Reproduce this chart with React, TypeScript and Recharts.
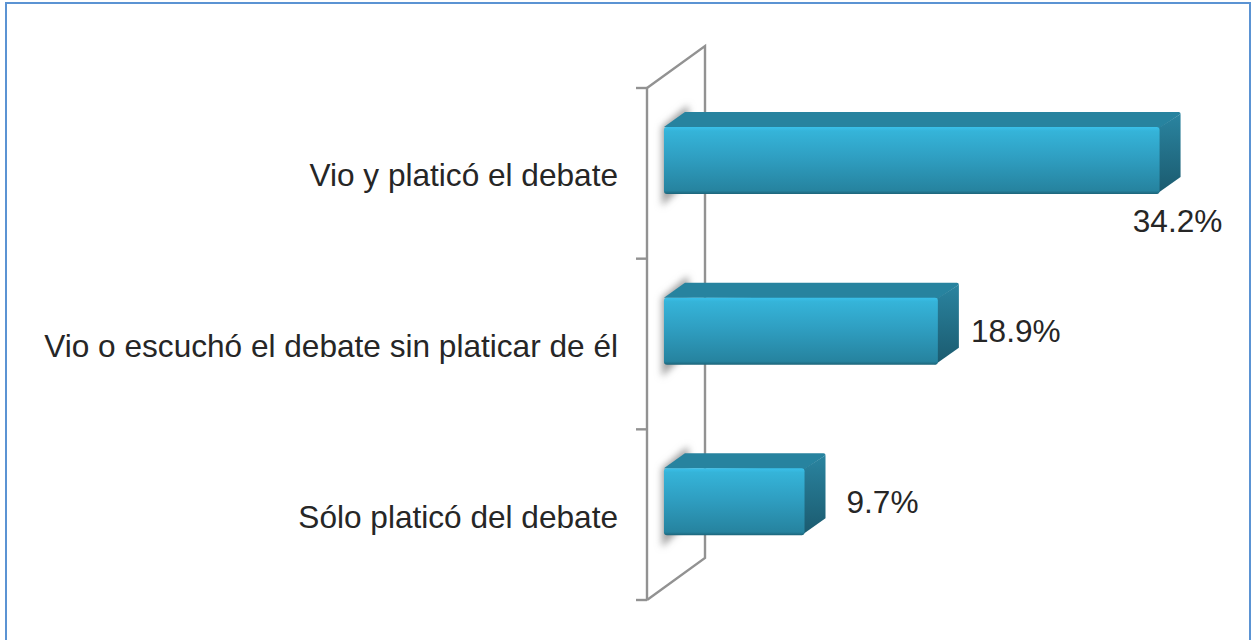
import { Bar, BarChart, Cell, LabelList, XAxis, YAxis, usePlotArea } from "recharts";

// Horizontal "3D" bars on a slanted wall, debate survey chart.

const categories = [
  "Vio y platicó el debate",
  "Vio o escuchó el debate sin platicar de él",
  "Sólo platicó del debate",
];
const shares = [34.2, 18.9, 9.7];

const data = categories.map((name, i) => ({ name, share: shares[i] }));

const WIDTH = 1255;
const HEIGHT = 640;
const FONT = '"Liberation Sans", Arial, sans-serif';
const FONT_SIZE = 31.6;
const INK = "#262626";
const AXIS_GREY = "#929292";
const AXIS_WIDTH = 2.4;

// bar extrusion and wall depth, as drawn by the old office 3D style
const DEPTH_X = 21;
const DEPTH_Y = 15;
const WALL_X = 58;
const WALL_Y = 42;
const BAR_SHIFT = 13;
const TICK_LEN = 11;

function Wall() {
  const plot = usePlotArea();
  if (!plot) return null;
  const { x, y, height } = plot;
  const bottom = y + height;
  const band = height / categories.length;
  return (
    <g stroke={AXIS_GREY} strokeWidth={AXIS_WIDTH} fill="none">
      <polyline
        points={`${x},${y} ${x + WALL_X},${y - WALL_Y} ${x + WALL_X},${bottom - WALL_Y} ${x},${bottom}`}
      />
      {/* ticks sit on the band edges, not the band centres */}
      {[...categories, ""].map((_, i) => (
        <line key={i} x1={x - TICK_LEN} x2={x} y1={y + band * i} y2={y + band * i} />
      ))}
    </g>
  );
}

function Bar3D(props: any) {
  const { x, y: rawY, width, height } = props;
  const y = rawY - BAR_SHIFT;
  const r = x + width;
  const b = y + height;
  return (
    <g>
      <path
        d={`M${x - 2},${y} L${x + DEPTH_X + 3},${y - DEPTH_Y - 7} L${x + DEPTH_X + 5},${y} L${x + DEPTH_X + 5},${b - DEPTH_Y} L${x - 2},${b + 12} Z`}
        fill="#a0a0a0"
        filter="url(#wallShadow)"
      />
      <path
        d={`M${x},${y} L${x + DEPTH_X},${y - DEPTH_Y} L${r + DEPTH_X - 2},${y - DEPTH_Y} Q${r + DEPTH_X},${y - DEPTH_Y} ${r + DEPTH_X},${y - DEPTH_Y + 2} L${r},${y + 1} Z`}
        fill="#27839f"
      />
      <path
        d={`M${r - 1},${y + 1} L${r + DEPTH_X},${y - DEPTH_Y + 2} L${r + DEPTH_X},${b - DEPTH_Y - 2} L${r - 3},${b} Z`}
        fill="url(#barSide)"
      />
      <rect x={x} y={y} width={width} height={height} rx={3} fill="url(#barFront)" />
    </g>
  );
}

function ShareLabel(props: any) {
  const { x, y, width, height, value } = props;
  const end = x + width;
  // the longest bar has no room on its right, so its label drops below it
  const below = end > 1100;
  const cx = below ? end + 18 : end + 78;
  const cy = below ? y + height + 14 : y + height / 2 - 13;
  return (
    <text
      x={cx}
      y={cy}
      textAnchor="middle"
      dominantBaseline="central"
      fontSize={FONT_SIZE}
      fontFamily={FONT}
      fill={INK}
    >
      {value}%
    </text>
  );
}

function CategoryTick(props: any) {
  const { x, y, payload } = props;
  return (
    <text x={x} y={y + 2} textAnchor="end" dominantBaseline="central" fontSize={FONT_SIZE} fontFamily={FONT} fill={INK}>
      {payload.value}
    </text>
  );
}

export default function App() {
  return (
    <div
      style={{
        position: "absolute",
        left: 0,
        top: 0,
        width: WIDTH,
        height: HEIGHT,
        background: "#ffffff",
        overflow: "hidden",
      }}
    >
      <div
        style={{
          position: "absolute",
          left: 5,
          top: 2,
          width: 1246,
          height: 660,
          border: "2px solid #5b93d3",
          boxSizing: "border-box",
        }}
      />
      <BarChart
        width={WIDTH}
        height={HEIGHT}
        data={data}
        layout="vertical"
        margin={{ top: 88, right: 65, bottom: 40, left: 0 }}
        barSize={67}
        style={{ position: "absolute", left: 0, top: 0 }}
      >
        <defs>
          <linearGradient id="barFront" x1="0" y1="0" x2="0" y2="1">
            <stop offset="0%" stopColor="#3ac0ea" />
            <stop offset="6%" stopColor="#35b4d9" />
            <stop offset="45%" stopColor="#2f9fc2" />
            <stop offset="95%" stopColor="#26839f" />
            <stop offset="100%" stopColor="#1c6479" />
          </linearGradient>
          <linearGradient id="barSide" x1="0" y1="0" x2="0" y2="1">
            <stop offset="0%" stopColor="#2a84a0" />
            <stop offset="100%" stopColor="#1b5a6e" />
          </linearGradient>
          <filter id="wallShadow" x="-40%" y="-40%" width="180%" height="180%">
            <feGaussianBlur stdDeviation="3.5" />
          </filter>
        </defs>
        <XAxis type="number" hide domain={[-1.17, 36.3]} />
        <YAxis
          type="category"
          dataKey="name"
          width={647}
          axisLine={{ stroke: AXIS_GREY, strokeWidth: AXIS_WIDTH }}
          tickLine={false}
          tickSize={11}
          tickMargin={18}
          tick={<CategoryTick />}
          interval={0}
        />
        <Wall />
        <Bar dataKey="share" isAnimationActive={false} shape={<Bar3D />}>
          {data.map((d) => (
            <Cell key={d.name} />
          ))}
          <LabelList dataKey="share" content={<ShareLabel />} />
        </Bar>
      </BarChart>
    </div>
  );
}
